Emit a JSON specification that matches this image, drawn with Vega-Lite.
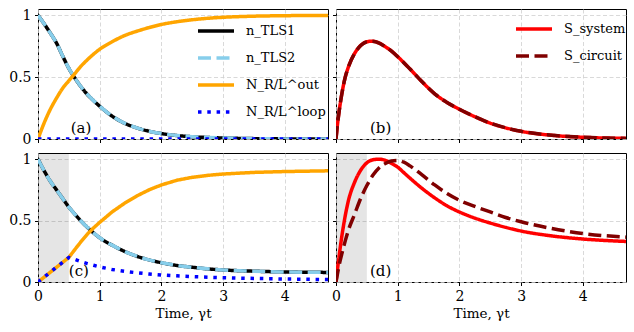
{
  "$schema": "https://vega.github.io/schema/vega-lite/v6.json",
  "padding": {"left": 8, "top": 7, "right": 5, "bottom": 5},
  "background": "white",
  "bounds": "flush",
  "columns": 2,
  "spacing": {"row": 14, "column": 8},
  "datasets": {
    "a": [
      {"t":0,"v":1.0,"s":"n_TLS1"},{"t":0.1,"v":0.93,"s":"n_TLS1"},{"t":0.2,"v":0.855,"s":"n_TLS1"},{"t":0.3,"v":0.775,"s":"n_TLS1"},{"t":0.4,"v":0.67,"s":"n_TLS1"},{"t":0.5,"v":0.57,"s":"n_TLS1"},{"t":0.6,"v":0.49,"s":"n_TLS1"},{"t":0.7,"v":0.42,"s":"n_TLS1"},{"t":0.8,"v":0.36,"s":"n_TLS1"},{"t":0.9,"v":0.31,"s":"n_TLS1"},{"t":1.0,"v":0.265,"s":"n_TLS1"},{"t":1.2,"v":0.185,"s":"n_TLS1"},{"t":1.4,"v":0.128,"s":"n_TLS1"},{"t":1.6,"v":0.09,"s":"n_TLS1"},{"t":1.8,"v":0.063,"s":"n_TLS1"},{"t":2.0,"v":0.044,"s":"n_TLS1"},{"t":2.25,"v":0.028,"s":"n_TLS1"},{"t":2.5,"v":0.018,"s":"n_TLS1"},{"t":2.75,"v":0.012,"s":"n_TLS1"},{"t":3.0,"v":0.008,"s":"n_TLS1"},{"t":3.5,"v":0.003,"s":"n_TLS1"},{"t":4.0,"v":0.001,"s":"n_TLS1"},{"t":4.7,"v":0.0,"s":"n_TLS1"},
      {"t":0,"v":1.0,"s":"n_TLS2"},{"t":0.1,"v":0.93,"s":"n_TLS2"},{"t":0.2,"v":0.855,"s":"n_TLS2"},{"t":0.3,"v":0.775,"s":"n_TLS2"},{"t":0.4,"v":0.67,"s":"n_TLS2"},{"t":0.5,"v":0.57,"s":"n_TLS2"},{"t":0.6,"v":0.49,"s":"n_TLS2"},{"t":0.7,"v":0.42,"s":"n_TLS2"},{"t":0.8,"v":0.36,"s":"n_TLS2"},{"t":0.9,"v":0.31,"s":"n_TLS2"},{"t":1.0,"v":0.265,"s":"n_TLS2"},{"t":1.2,"v":0.185,"s":"n_TLS2"},{"t":1.4,"v":0.128,"s":"n_TLS2"},{"t":1.6,"v":0.09,"s":"n_TLS2"},{"t":1.8,"v":0.063,"s":"n_TLS2"},{"t":2.0,"v":0.044,"s":"n_TLS2"},{"t":2.25,"v":0.028,"s":"n_TLS2"},{"t":2.5,"v":0.018,"s":"n_TLS2"},{"t":2.75,"v":0.012,"s":"n_TLS2"},{"t":3.0,"v":0.008,"s":"n_TLS2"},{"t":3.5,"v":0.003,"s":"n_TLS2"},{"t":4.0,"v":0.001,"s":"n_TLS2"},{"t":4.7,"v":0.0,"s":"n_TLS2"},
      {"t":0,"v":0,"s":"N_R/L^out"},{"t":0.1,"v":0.13,"s":"N_R/L^out"},{"t":0.2,"v":0.24,"s":"N_R/L^out"},{"t":0.3,"v":0.33,"s":"N_R/L^out"},{"t":0.4,"v":0.41,"s":"N_R/L^out"},{"t":0.5,"v":0.47,"s":"N_R/L^out"},{"t":0.6,"v":0.53,"s":"N_R/L^out"},{"t":0.7,"v":0.59,"s":"N_R/L^out"},{"t":0.8,"v":0.64,"s":"N_R/L^out"},{"t":0.9,"v":0.685,"s":"N_R/L^out"},{"t":1.0,"v":0.725,"s":"N_R/L^out"},{"t":1.2,"v":0.785,"s":"N_R/L^out"},{"t":1.4,"v":0.835,"s":"N_R/L^out"},{"t":1.6,"v":0.87,"s":"N_R/L^out"},{"t":1.8,"v":0.9,"s":"N_R/L^out"},{"t":2.0,"v":0.925,"s":"N_R/L^out"},{"t":2.25,"v":0.947,"s":"N_R/L^out"},{"t":2.5,"v":0.963,"s":"N_R/L^out"},{"t":2.75,"v":0.975,"s":"N_R/L^out"},{"t":3.0,"v":0.983,"s":"N_R/L^out"},{"t":3.5,"v":0.992,"s":"N_R/L^out"},{"t":4.0,"v":0.996,"s":"N_R/L^out"},{"t":4.7,"v":0.998,"s":"N_R/L^out"},
      {"t":0,"v":0,"s":"N_R/L^loop"},{"t":1.0,"v":0,"s":"N_R/L^loop"},{"t":2.0,"v":0,"s":"N_R/L^loop"},{"t":3.0,"v":0,"s":"N_R/L^loop"},{"t":4.0,"v":0,"s":"N_R/L^loop"},{"t":4.7,"v":0,"s":"N_R/L^loop"}
    ],
    "b": [
      {"t":0,"v":0,"s":"S_system"},{"t":0.02,"v":0.1,"s":"S_system"},{"t":0.05,"v":0.22,"s":"S_system"},{"t":0.1,"v":0.38,"s":"S_system"},{"t":0.15,"v":0.5,"s":"S_system"},{"t":0.2,"v":0.58,"s":"S_system"},{"t":0.3,"v":0.69,"s":"S_system"},{"t":0.4,"v":0.755,"s":"S_system"},{"t":0.5,"v":0.785,"s":"S_system"},{"t":0.58,"v":0.79,"s":"S_system"},{"t":0.7,"v":0.775,"s":"S_system"},{"t":0.8,"v":0.745,"s":"S_system"},{"t":0.9,"v":0.71,"s":"S_system"},{"t":1.0,"v":0.665,"s":"S_system"},{"t":1.2,"v":0.565,"s":"S_system"},{"t":1.4,"v":0.46,"s":"S_system"},{"t":1.6,"v":0.365,"s":"S_system"},{"t":1.8,"v":0.295,"s":"S_system"},{"t":2.0,"v":0.24,"s":"S_system"},{"t":2.25,"v":0.18,"s":"S_system"},{"t":2.5,"v":0.128,"s":"S_system"},{"t":2.75,"v":0.09,"s":"S_system"},{"t":3.0,"v":0.062,"s":"S_system"},{"t":3.5,"v":0.03,"s":"S_system"},{"t":4.0,"v":0.014,"s":"S_system"},{"t":4.7,"v":0.005,"s":"S_system"},
      {"t":0,"v":0,"s":"S_circuit"},{"t":0.02,"v":0.1,"s":"S_circuit"},{"t":0.05,"v":0.22,"s":"S_circuit"},{"t":0.1,"v":0.38,"s":"S_circuit"},{"t":0.15,"v":0.5,"s":"S_circuit"},{"t":0.2,"v":0.58,"s":"S_circuit"},{"t":0.3,"v":0.69,"s":"S_circuit"},{"t":0.4,"v":0.755,"s":"S_circuit"},{"t":0.5,"v":0.785,"s":"S_circuit"},{"t":0.58,"v":0.79,"s":"S_circuit"},{"t":0.7,"v":0.775,"s":"S_circuit"},{"t":0.8,"v":0.745,"s":"S_circuit"},{"t":0.9,"v":0.71,"s":"S_circuit"},{"t":1.0,"v":0.665,"s":"S_circuit"},{"t":1.2,"v":0.565,"s":"S_circuit"},{"t":1.4,"v":0.46,"s":"S_circuit"},{"t":1.6,"v":0.365,"s":"S_circuit"},{"t":1.8,"v":0.295,"s":"S_circuit"},{"t":2.0,"v":0.24,"s":"S_circuit"},{"t":2.25,"v":0.18,"s":"S_circuit"},{"t":2.5,"v":0.128,"s":"S_circuit"},{"t":2.75,"v":0.09,"s":"S_circuit"},{"t":3.0,"v":0.062,"s":"S_circuit"},{"t":3.5,"v":0.03,"s":"S_circuit"},{"t":4.0,"v":0.014,"s":"S_circuit"},{"t":4.7,"v":0.005,"s":"S_circuit"}
    ],
    "c": [
      {"t":0,"v":1.0,"s":"n_TLS1"},{"t":0.1,"v":0.905,"s":"n_TLS1"},{"t":0.2,"v":0.82,"s":"n_TLS1"},{"t":0.3,"v":0.75,"s":"n_TLS1"},{"t":0.4,"v":0.68,"s":"n_TLS1"},{"t":0.5,"v":0.61,"s":"n_TLS1"},{"t":0.6,"v":0.55,"s":"n_TLS1"},{"t":0.7,"v":0.495,"s":"n_TLS1"},{"t":0.8,"v":0.445,"s":"n_TLS1"},{"t":0.9,"v":0.4,"s":"n_TLS1"},{"t":1.0,"v":0.36,"s":"n_TLS1"},{"t":1.2,"v":0.3,"s":"n_TLS1"},{"t":1.4,"v":0.25,"s":"n_TLS1"},{"t":1.6,"v":0.21,"s":"n_TLS1"},{"t":1.8,"v":0.18,"s":"n_TLS1"},{"t":2.0,"v":0.157,"s":"n_TLS1"},{"t":2.25,"v":0.135,"s":"n_TLS1"},{"t":2.5,"v":0.12,"s":"n_TLS1"},{"t":2.75,"v":0.107,"s":"n_TLS1"},{"t":3.0,"v":0.098,"s":"n_TLS1"},{"t":3.5,"v":0.088,"s":"n_TLS1"},{"t":4.0,"v":0.082,"s":"n_TLS1"},{"t":4.7,"v":0.078,"s":"n_TLS1"},
      {"t":0,"v":1.0,"s":"n_TLS2"},{"t":0.1,"v":0.905,"s":"n_TLS2"},{"t":0.2,"v":0.82,"s":"n_TLS2"},{"t":0.3,"v":0.75,"s":"n_TLS2"},{"t":0.4,"v":0.68,"s":"n_TLS2"},{"t":0.5,"v":0.61,"s":"n_TLS2"},{"t":0.6,"v":0.55,"s":"n_TLS2"},{"t":0.7,"v":0.495,"s":"n_TLS2"},{"t":0.8,"v":0.445,"s":"n_TLS2"},{"t":0.9,"v":0.4,"s":"n_TLS2"},{"t":1.0,"v":0.36,"s":"n_TLS2"},{"t":1.2,"v":0.3,"s":"n_TLS2"},{"t":1.4,"v":0.25,"s":"n_TLS2"},{"t":1.6,"v":0.21,"s":"n_TLS2"},{"t":1.8,"v":0.18,"s":"n_TLS2"},{"t":2.0,"v":0.157,"s":"n_TLS2"},{"t":2.25,"v":0.135,"s":"n_TLS2"},{"t":2.5,"v":0.12,"s":"n_TLS2"},{"t":2.75,"v":0.107,"s":"n_TLS2"},{"t":3.0,"v":0.098,"s":"n_TLS2"},{"t":3.5,"v":0.088,"s":"n_TLS2"},{"t":4.0,"v":0.082,"s":"n_TLS2"},{"t":4.7,"v":0.078,"s":"n_TLS2"},
      {"t":0,"v":0,"s":"N_R/L^out"},{"t":0.1,"v":0.04,"s":"N_R/L^out"},{"t":0.2,"v":0.08,"s":"N_R/L^out"},{"t":0.3,"v":0.12,"s":"N_R/L^out"},{"t":0.4,"v":0.16,"s":"N_R/L^out"},{"t":0.5,"v":0.2,"s":"N_R/L^out"},{"t":0.6,"v":0.266,"s":"N_R/L^out"},{"t":0.7,"v":0.33,"s":"N_R/L^out"},{"t":0.8,"v":0.39,"s":"N_R/L^out"},{"t":0.9,"v":0.44,"s":"N_R/L^out"},{"t":1.0,"v":0.485,"s":"N_R/L^out"},{"t":1.2,"v":0.57,"s":"N_R/L^out"},{"t":1.4,"v":0.64,"s":"N_R/L^out"},{"t":1.6,"v":0.7,"s":"N_R/L^out"},{"t":1.8,"v":0.75,"s":"N_R/L^out"},{"t":2.0,"v":0.79,"s":"N_R/L^out"},{"t":2.25,"v":0.828,"s":"N_R/L^out"},{"t":2.5,"v":0.852,"s":"N_R/L^out"},{"t":2.75,"v":0.868,"s":"N_R/L^out"},{"t":3.0,"v":0.879,"s":"N_R/L^out"},{"t":3.5,"v":0.892,"s":"N_R/L^out"},{"t":4.0,"v":0.899,"s":"N_R/L^out"},{"t":4.7,"v":0.905,"s":"N_R/L^out"},
      {"t":0,"v":0,"s":"N_R/L^loop"},{"t":0.1,"v":0.04,"s":"N_R/L^loop"},{"t":0.2,"v":0.08,"s":"N_R/L^loop"},{"t":0.3,"v":0.12,"s":"N_R/L^loop"},{"t":0.4,"v":0.16,"s":"N_R/L^loop"},{"t":0.5,"v":0.2,"s":"N_R/L^loop"},{"t":0.6,"v":0.183,"s":"N_R/L^loop"},{"t":0.7,"v":0.165,"s":"N_R/L^loop"},{"t":0.8,"v":0.15,"s":"N_R/L^loop"},{"t":0.9,"v":0.136,"s":"N_R/L^loop"},{"t":1.0,"v":0.123,"s":"N_R/L^loop"},{"t":1.2,"v":0.102,"s":"N_R/L^loop"},{"t":1.4,"v":0.087,"s":"N_R/L^loop"},{"t":1.6,"v":0.075,"s":"N_R/L^loop"},{"t":1.8,"v":0.065,"s":"N_R/L^loop"},{"t":2.0,"v":0.057,"s":"N_R/L^loop"},{"t":2.25,"v":0.05,"s":"N_R/L^loop"},{"t":2.5,"v":0.044,"s":"N_R/L^loop"},{"t":2.75,"v":0.039,"s":"N_R/L^loop"},{"t":3.0,"v":0.035,"s":"N_R/L^loop"},{"t":3.5,"v":0.029,"s":"N_R/L^loop"},{"t":4.0,"v":0.024,"s":"N_R/L^loop"},{"t":4.7,"v":0.02,"s":"N_R/L^loop"}
    ],
    "d": [
      {"t":0,"v":0,"s":"S_system"},{"t":0.05,"v":0.21,"s":"S_system"},{"t":0.1,"v":0.39,"s":"S_system"},{"t":0.15,"v":0.54,"s":"S_system"},{"t":0.2,"v":0.66,"s":"S_system"},{"t":0.3,"v":0.81,"s":"S_system"},{"t":0.4,"v":0.91,"s":"S_system"},{"t":0.5,"v":0.97,"s":"S_system"},{"t":0.6,"v":0.995,"s":"S_system"},{"t":0.7,"v":1.0,"s":"S_system"},{"t":0.8,"v":0.99,"s":"S_system"},{"t":0.9,"v":0.965,"s":"S_system"},{"t":1.0,"v":0.935,"s":"S_system"},{"t":1.1,"v":0.89,"s":"S_system"},{"t":1.2,"v":0.845,"s":"S_system"},{"t":1.4,"v":0.76,"s":"S_system"},{"t":1.6,"v":0.685,"s":"S_system"},{"t":1.8,"v":0.62,"s":"S_system"},{"t":2.0,"v":0.57,"s":"S_system"},{"t":2.25,"v":0.52,"s":"S_system"},{"t":2.5,"v":0.48,"s":"S_system"},{"t":2.75,"v":0.445,"s":"S_system"},{"t":3.0,"v":0.415,"s":"S_system"},{"t":3.5,"v":0.375,"s":"S_system"},{"t":4.0,"v":0.35,"s":"S_system"},{"t":4.7,"v":0.33,"s":"S_system"},
      {"t":0,"v":0,"s":"S_circuit"},{"t":0.05,"v":0.135,"s":"S_circuit"},{"t":0.1,"v":0.24,"s":"S_circuit"},{"t":0.15,"v":0.335,"s":"S_circuit"},{"t":0.2,"v":0.42,"s":"S_circuit"},{"t":0.3,"v":0.55,"s":"S_circuit"},{"t":0.4,"v":0.68,"s":"S_circuit"},{"t":0.5,"v":0.785,"s":"S_circuit"},{"t":0.6,"v":0.87,"s":"S_circuit"},{"t":0.7,"v":0.93,"s":"S_circuit"},{"t":0.8,"v":0.965,"s":"S_circuit"},{"t":0.9,"v":0.985,"s":"S_circuit"},{"t":1.0,"v":0.99,"s":"S_circuit"},{"t":1.1,"v":0.975,"s":"S_circuit"},{"t":1.2,"v":0.945,"s":"S_circuit"},{"t":1.4,"v":0.87,"s":"S_circuit"},{"t":1.6,"v":0.79,"s":"S_circuit"},{"t":1.8,"v":0.72,"s":"S_circuit"},{"t":2.0,"v":0.665,"s":"S_circuit"},{"t":2.25,"v":0.615,"s":"S_circuit"},{"t":2.5,"v":0.57,"s":"S_circuit"},{"t":2.75,"v":0.525,"s":"S_circuit"},{"t":3.0,"v":0.49,"s":"S_circuit"},{"t":3.5,"v":0.435,"s":"S_circuit"},{"t":4.0,"v":0.395,"s":"S_circuit"},{"t":4.7,"v":0.365,"s":"S_circuit"}
    ]
  },
  "concat": [
    {
      "width": 290, "height": 130,
      "layer": [
        {
          "data": {"name": "a"},
          "encoding": {
            "x": {"field": "t", "type": "quantitative", "scale": {"domain": [0, 4.7], "nice": false, "zero": false}, "axis": {"values": [0,1,2,3,4], "labels": false, "title": null}},
            "y": {"field": "v", "type": "quantitative", "scale": {"domain": [0, 1.05], "nice": false}, "axis": {"values": [0,0.5,1], "format": "~g", "title": null}},
            "color": {"field": "s", "type": "nominal", "scale": {"domain": ["n_TLS1","n_TLS2","N_R/L^out","N_R/L^loop"], "range": ["#000000","#87CEEB","#FFA500","#0000FF"]},
              "legend": {"orient": "top-right", "offset": 2, "title": null, "rowPadding": -11}},
            "strokeDash": {"field": "s", "type": "nominal", "scale": {"domain": ["n_TLS1","n_TLS2","N_R/L^out","N_R/L^loop"], "range": [[1,0],[13,5.5],[1,0],[3.5,5.8]]},
              "legend": {"orient": "top-right", "offset": 2, "title": null, "rowPadding": -11}}
          },
          "layer": [
            {"transform": [{"filter": "datum.s === 'n_TLS1'"}], "mark": {"type": "line", "strokeWidth": 3.5, "interpolate": "monotone", "clip": true}},
            {"transform": [{"filter": "datum.s === 'n_TLS2'"}], "mark": {"type": "line", "strokeWidth": 3.5, "interpolate": "monotone", "clip": true}},
            {"transform": [{"filter": "datum.s === 'N_R/L^out'"}], "mark": {"type": "line", "strokeWidth": 3.5, "interpolate": "monotone", "clip": true}},
            {"transform": [{"filter": "datum.s === 'N_R/L^loop'"}], "mark": {"type": "line", "strokeWidth": 3.5, "interpolate": "linear", "clip": true}}
          ]
        },
        {
          "data": {"values": [{"label": "(a)"}]},
          "mark": {"type": "text", "align": "left", "baseline": "middle", "fontSize": 15, "color": "black"},
          "encoding": {
            "x": {"datum": 0.53, "type": "quantitative", "axis": {"values": [0,1,2,3,4], "labels": false, "title": null}},
            "y": {"datum": 0.09, "type": "quantitative", "axis": {"values": [0,0.5,1], "format": "~g", "title": null}},
            "text": {"field": "label"}
          }
        }
      ]
    },
    {
      "width": 290, "height": 130,
      "layer": [
        {
          "data": {"name": "b"},
          "encoding": {
            "x": {"field": "t", "type": "quantitative", "scale": {"domain": [0, 4.7], "nice": false, "zero": false}, "axis": {"values": [0,1,2,3,4], "labels": false, "title": null}},
            "y": {"field": "v", "type": "quantitative", "scale": {"domain": [0, 1.05], "nice": false}, "axis": {"values": [0,0.5,1], "labels": false, "title": null}},
            "color": {"field": "s", "type": "nominal", "scale": {"domain": ["S_system","S_circuit"], "range": ["#FF0000","#800000"]},
              "legend": {"orient": "top-right", "offset": 0, "title": null, "rowPadding": -13}},
            "strokeDash": {"field": "s", "type": "nominal", "scale": {"domain": ["S_system","S_circuit"], "range": [[1,0],[13,5.5]]},
              "legend": {"orient": "top-right", "offset": 0, "title": null, "rowPadding": -13}}
          },
          "layer": [
            {"transform": [{"filter": "datum.s === 'S_system'"}], "mark": {"type": "line", "strokeWidth": 3.5, "interpolate": "monotone", "clip": true}},
            {"transform": [{"filter": "datum.s === 'S_circuit'"}], "mark": {"type": "line", "strokeWidth": 3.5, "interpolate": "monotone", "clip": true}}
          ]
        },
        {
          "data": {"values": [{"label": "(b)"}]},
          "mark": {"type": "text", "align": "left", "baseline": "middle", "fontSize": 15, "color": "black"},
          "encoding": {
            "x": {"datum": 0.55, "type": "quantitative", "axis": {"values": [0,1,2,3,4], "labels": false, "title": null}},
            "y": {"datum": 0.09, "type": "quantitative", "axis": {"values": [0,0.5,1], "labels": false, "title": null}},
            "text": {"field": "label"}
          }
        }
      ]
    },
    {
      "width": 290, "height": 129,
      "layer": [
        {
          "data": {"values": [{"label": "drive"}]},
          "mark": {"type": "rect", "color": "black", "opacity": 0.1},
          "encoding": {
            "x": {"datum": 0, "type": "quantitative", "axis": {"values": [0,1,2,3,4], "title": "Time, γt"}},
            "x2": {"datum": 0.5}
          }
        },
        {
          "data": {"name": "c"},
          "encoding": {
            "x": {"field": "t", "type": "quantitative", "scale": {"domain": [0, 4.7], "nice": false, "zero": false}, "axis": {"values": [0,1,2,3,4], "title": "Time, γt"}},
            "y": {"field": "v", "type": "quantitative", "scale": {"domain": [0, 1.05], "nice": false}, "axis": {"values": [0,0.5,1], "format": "~g", "title": null}},
            "color": {"field": "s", "type": "nominal", "scale": {"domain": ["n_TLS1","n_TLS2","N_R/L^out","N_R/L^loop"], "range": ["#000000","#87CEEB","#FFA500","#0000FF"]}, "legend": null},
            "strokeDash": {"field": "s", "type": "nominal", "scale": {"domain": ["n_TLS1","n_TLS2","N_R/L^out","N_R/L^loop"], "range": [[1,0],[13,5.5],[1,0],[3.5,5.8]]}, "legend": null}
          },
          "layer": [
            {"transform": [{"filter": "datum.s === 'n_TLS1'"}], "mark": {"type": "line", "strokeWidth": 3.5, "interpolate": "monotone", "clip": true}},
            {"transform": [{"filter": "datum.s === 'n_TLS2'"}], "mark": {"type": "line", "strokeWidth": 3.5, "interpolate": "monotone", "clip": true}},
            {"transform": [{"filter": "datum.s === 'N_R/L^out'"}], "mark": {"type": "line", "strokeWidth": 3.5, "interpolate": "linear", "clip": true}},
            {"transform": [{"filter": "datum.s === 'N_R/L^loop'"}], "mark": {"type": "line", "strokeWidth": 3.5, "interpolate": "linear", "clip": true}}
          ]
        },
        {
          "data": {"values": [{"label": "(c)"}]},
          "mark": {"type": "text", "align": "left", "baseline": "middle", "fontSize": 15, "color": "black"},
          "encoding": {
            "x": {"datum": 0.5, "type": "quantitative", "axis": {"values": [0,1,2,3,4], "title": "Time, γt"}},
            "y": {"datum": 0.09, "type": "quantitative", "axis": {"values": [0,0.5,1], "format": "~g", "title": null}},
            "text": {"field": "label"}
          }
        }
      ]
    },
    {
      "width": 290, "height": 129,
      "layer": [
        {
          "data": {"values": [{"label": "drive"}]},
          "mark": {"type": "rect", "color": "black", "opacity": 0.1},
          "encoding": {
            "x": {"datum": 0, "type": "quantitative", "axis": {"values": [0,1,2,3,4], "title": "Time, γt"}},
            "x2": {"datum": 0.5}
          }
        },
        {
          "data": {"name": "d"},
          "encoding": {
            "x": {"field": "t", "type": "quantitative", "scale": {"domain": [0, 4.7], "nice": false, "zero": false}, "axis": {"values": [0,1,2,3,4], "title": "Time, γt"}},
            "y": {"field": "v", "type": "quantitative", "scale": {"domain": [0, 1.05], "nice": false}, "axis": {"values": [0,0.5,1], "labels": false, "title": null}},
            "color": {"field": "s", "type": "nominal", "scale": {"domain": ["S_system","S_circuit"], "range": ["#FF0000","#800000"]}, "legend": null},
            "strokeDash": {"field": "s", "type": "nominal", "scale": {"domain": ["S_system","S_circuit"], "range": [[1,0],[13,5.5]]}, "legend": null}
          },
          "layer": [
            {"transform": [{"filter": "datum.s === 'S_system'"}], "mark": {"type": "line", "strokeWidth": 3.5, "interpolate": "monotone", "clip": true}},
            {"transform": [{"filter": "datum.s === 'S_circuit'"}], "mark": {"type": "line", "strokeWidth": 3.5, "interpolate": "monotone", "clip": true}}
          ]
        },
        {
          "data": {"values": [{"label": "(d)"}]},
          "mark": {"type": "text", "align": "left", "baseline": "middle", "fontSize": 15, "color": "black"},
          "encoding": {
            "x": {"datum": 0.55, "type": "quantitative", "axis": {"values": [0,1,2,3,4], "title": "Time, γt"}},
            "y": {"datum": 0.09, "type": "quantitative", "axis": {"values": [0,0.5,1], "labels": false, "title": null}},
            "text": {"field": "label"}
          }
        }
      ]
    }
  ],
  "resolve": {
    "scale": {"color": "independent", "strokeDash": "independent"},
    "legend": {"color": "independent", "strokeDash": "independent"}
  },
  "config": {
    "font": "DejaVu Serif",
    "text": {"font": "DejaVu Serif"},
    "view": {"stroke": "black", "strokeWidth": 1},
    "axis": {
      "domain": false,
      "grid": true,
      "gridColor": "#cfcfcf",
      "gridDash": [4, 2.5],
      "gridWidth": 0.8,
      "ticks": true,
      "tickColor": "black",
      "tickSize": 3.5,
      "tickWidth": 1,
      "labelFont": "DejaVu Serif",
      "labelFontSize": 14,
      "labelColor": "black",
      "labelPadding": 3.5,
      "labelFlush": false,
      "titleFont": "DejaVu Serif",
      "titleFontSize": 13.5,
      "titleFontWeight": "normal",
      "titleColor": "black",
      "titlePadding": 3
    },
    "legend": {
      "symbolType": "stroke",
      "symbolSize": 1296,
      "symbolStrokeWidth": 3.5,
      "labelFont": "DejaVu Serif",
      "labelFontSize": 13,
      "labelColor": "black",
      "labelOffset": 10,
      "padding": 0,
      "symbolOpacity": 1
    }
  }
}
